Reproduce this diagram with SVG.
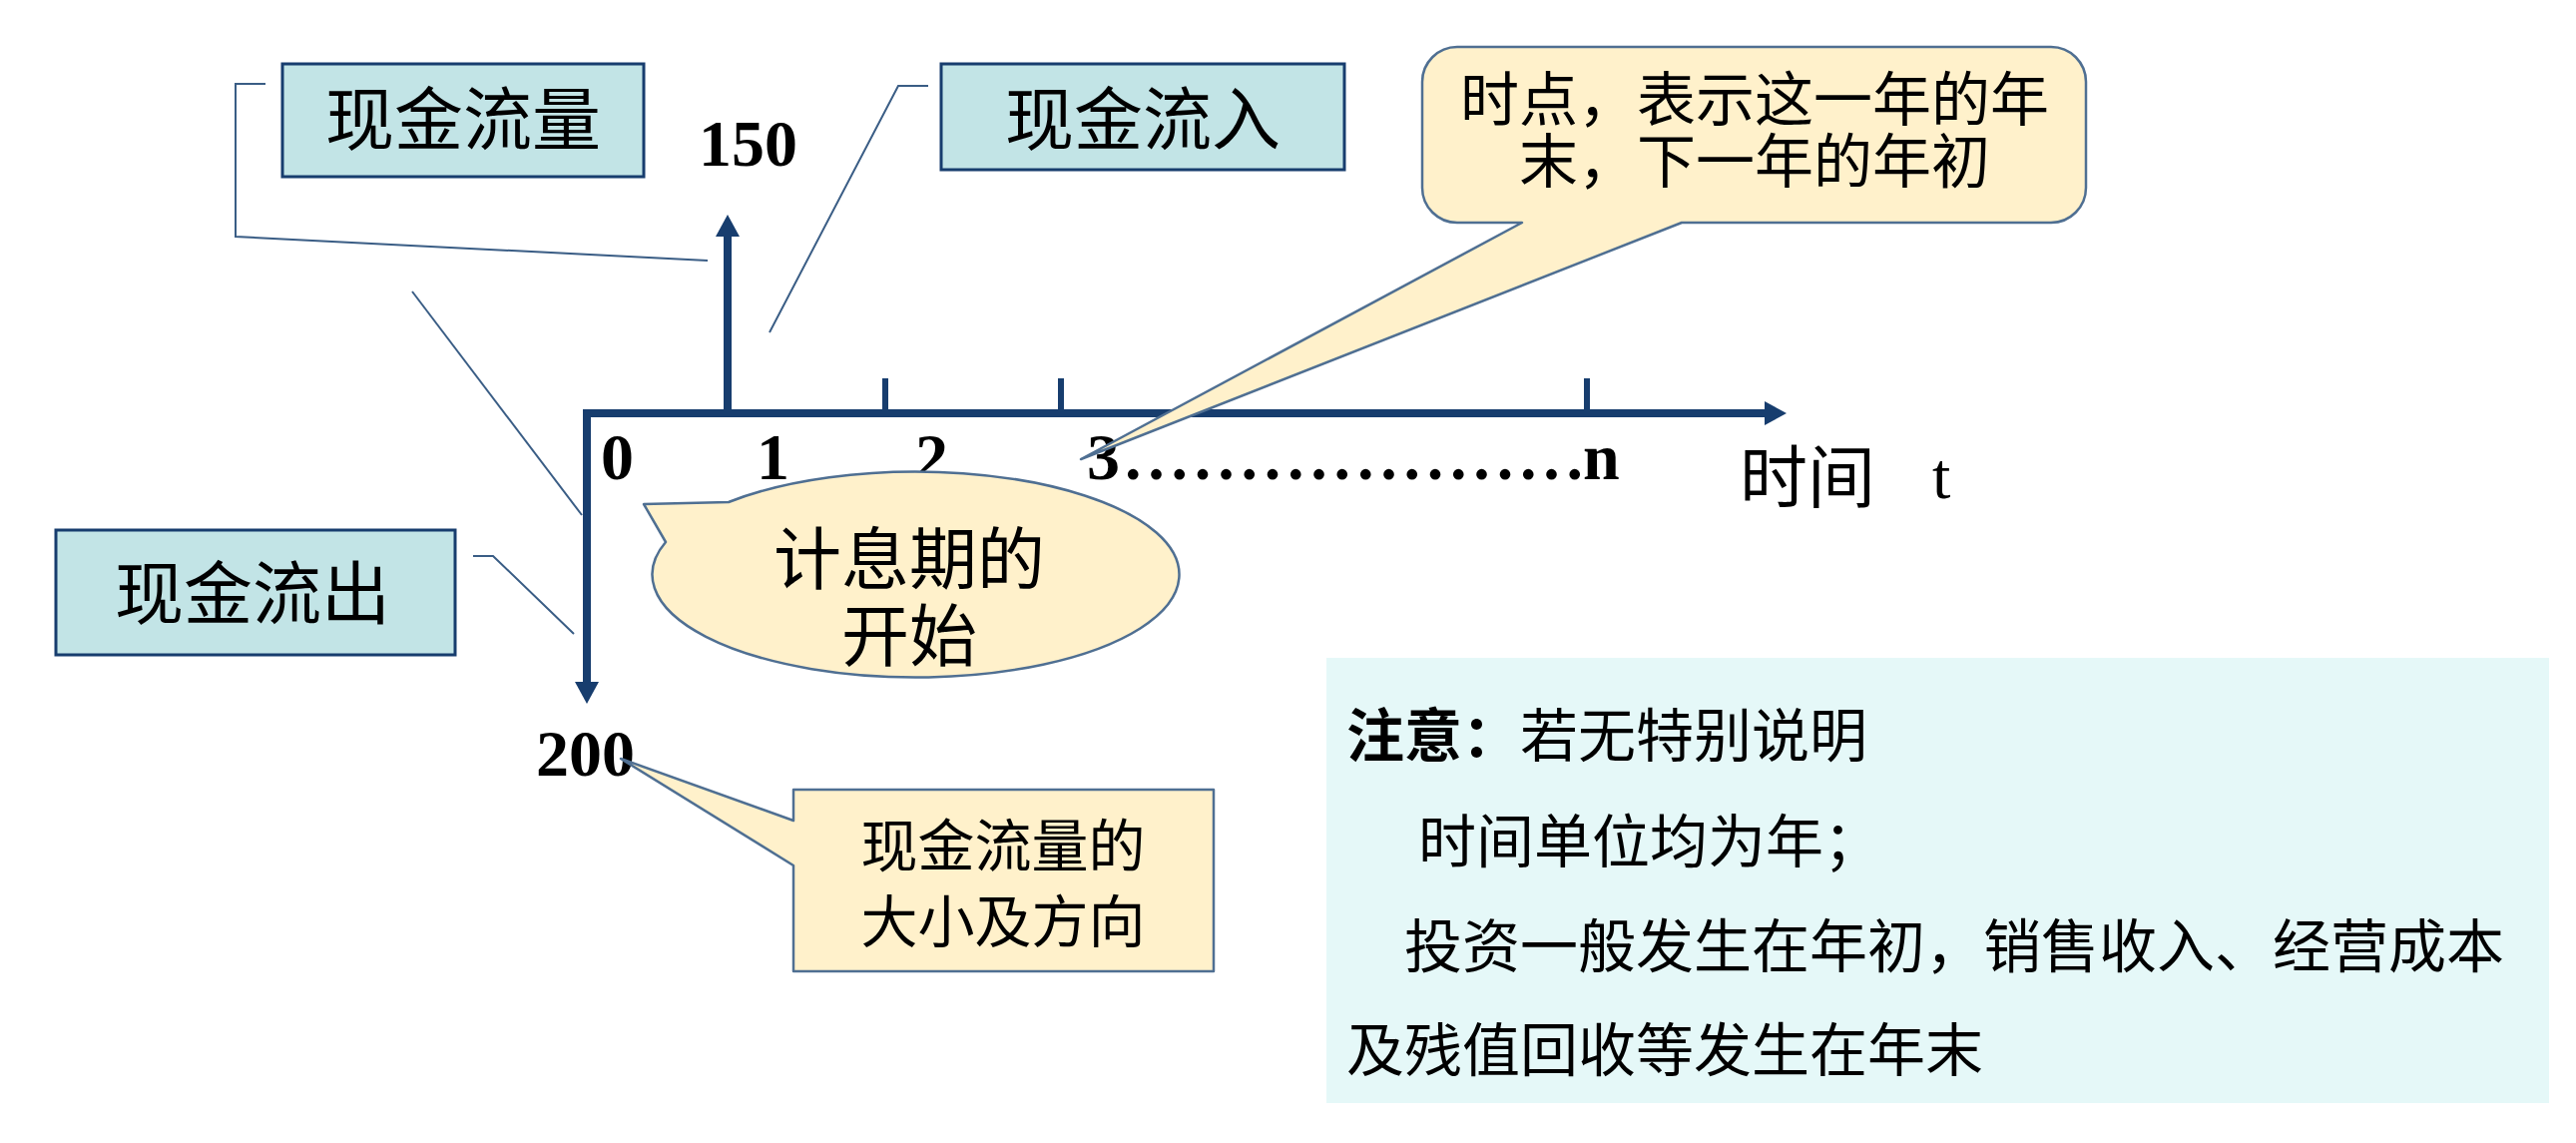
<svg xmlns="http://www.w3.org/2000/svg" width="2581" height="1145" viewBox="0 0 2581 1145">
<style>
.cjk{font-family:"Noto Sans CJK SC","Noto Sans",sans-serif;fill:#000}
.num{font-family:"Liberation Serif","Times New Roman",serif;font-weight:bold;font-size:66px;fill:#000}
.box{fill:#c2e4e6;stroke:#173d6e;stroke-width:3}
.call{fill:#fff1cb;stroke:#4f6f92;stroke-width:2.5;stroke-linejoin:round}
.lead{fill:none;stroke:#3a5d85;stroke-width:2}
.axis{fill:none;stroke:#173d6e;stroke-width:8}
.tick{stroke:#173d6e;stroke-width:6}
</style>
<defs>
<marker id="ah" viewBox="0 0 22 24" markerWidth="22" markerHeight="24" refX="2" refY="12" orient="auto-start-reverse" markerUnits="userSpaceOnUse">
<path d="M0,0 L22,12 L0,24 Z" fill="#173d6e"/>
</marker>
</defs>
<rect width="2581" height="1145" fill="#fff"/>

<g id="connectors">
<polyline class="lead" points="266,84 236,84 236,237 709,261"/>
<polyline class="lead" points="930,86 900,86 771,333"/>
<line class="lead" x1="413" y1="292" x2="583" y2="516"/>
<polyline class="lead" points="474,557 494,557 575,635"/>
</g>

<g id="axes">
<path class="axis" d="M588,685 V414 H1770" marker-start="url(#ah)" marker-end="url(#ah)"/>
<path class="axis" d="M729,414 V235" marker-end="url(#ah)"/>
<line class="tick" x1="887" y1="379" x2="887" y2="414"/>
<line class="tick" x1="1063" y1="379" x2="1063" y2="414"/>
<line class="tick" x1="1590" y1="379" x2="1590" y2="414"/>
</g>

<g id="labels">
<text class="num" x="700" y="166">150</text>
<text class="num" x="537" y="777">200</text>
<text class="num" x="602" y="480">0</text>
<text class="num" x="758" y="480">1</text>
<text class="num" x="917" y="480">2</text>
<text class="num" x="1089" y="480">3</text>
<text class="num" x="1127" y="480" textLength="459" lengthAdjust="spacing">....................</text>
<text class="num" x="1586" y="480">n</text>
<text class="cjk" x="1743" y="503" font-size="68">时间</text>
<text x="1936" y="499" font-family="Liberation Serif,serif" font-size="66" fill="#000">t</text>
</g>

<g id="node-cashflow">
<rect class="box" x="283" y="64" width="362" height="113"/>
<text class="cjk" x="464" y="145" font-size="69" text-anchor="middle">现金流量</text>
</g>

<g id="node-inflow">
<rect class="box" x="943" y="64" width="404" height="106"/>
<text class="cjk" x="1145" y="145" font-size="69" text-anchor="middle">现金流入</text>
</g>

<g id="node-outflow">
<rect class="box" x="56" y="531" width="400" height="125"/>
<text class="cjk" x="253" y="620" font-size="69" text-anchor="middle">现金流出</text>
</g>

<g id="node-start">
<path class="call" d="M730,503 A264 103 0 1 1 667,543 L645,505 Z"/>
<text class="cjk" x="911" y="585" font-size="68" text-anchor="middle">计息期的</text>
<text class="cjk" x="911" y="662" font-size="68" text-anchor="middle">开始</text>
</g>

<g id="node-timepoint">
<path class="call" d="M1460,47 H2055 A35 35 0 0 1 2090,82 V188 A35 35 0 0 1 2055,223 H1685 L1083,460 L1525,223 H1460 A35 35 0 0 1 1425,188 V82 A35 35 0 0 1 1460,47 Z"/>
<text class="cjk" x="1758" y="121" font-size="59" text-anchor="middle">时点，表示这一年的年</text>
<text class="cjk" x="1758" y="183" font-size="59" text-anchor="middle">末，下一年的年初</text>
</g>

<g id="node-size">
<path class="call" d="M795,791 H1216 V973 H795 V867 L622,760 L795,822 Z"/>
<text class="cjk" x="1005" y="868" font-size="57" text-anchor="middle">现金流量的</text>
<text class="cjk" x="1005" y="944" font-size="57" text-anchor="middle">大小及方向</text>
</g>

<g id="node-note">
<rect x="1329" y="659" width="1225" height="446" fill="#e5f8f8"/>
<text class="cjk" x="1349" y="758" font-size="58"><tspan font-weight="bold">注意：</tspan>若无特别说明</text>
<text class="cjk" x="1421" y="864" font-size="58">时间单位均为年；</text>
<text class="cjk" x="1407" y="969" font-size="58">投资一般发生在年初，销售收入、经营成本</text>
<text class="cjk" x="1349" y="1073" font-size="58">及残值回收等发生在年末</text>
</g>
</svg>
